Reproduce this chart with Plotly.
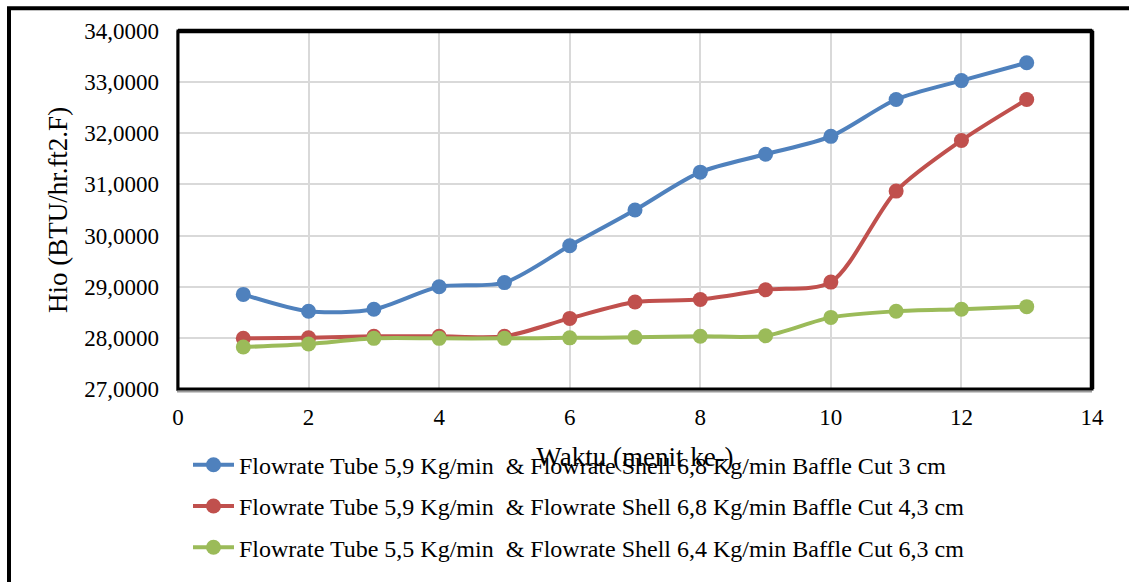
import plotly.graph_objects as go

# Waktu (menit ke-)
waktu = [1, 2, 3, 4, 5, 6, 7, 8, 9, 10, 11, 12, 13]

# Hio (BTU/hr.ft2.F) per series
hio_baffle_3 = [28.85, 28.52, 28.56, 29.00, 29.08, 29.80, 30.50, 31.24, 31.59, 31.94, 32.66, 33.03, 33.38]
hio_baffle_43 = [27.99, 28.00, 28.03, 28.03, 28.03, 28.38, 28.70, 28.75, 28.94, 29.09, 30.87, 31.86, 32.66]
hio_baffle_63 = [27.82, 27.88, 27.99, 27.99, 27.99, 28.00, 28.01, 28.03, 28.04, 28.40, 28.52, 28.56, 28.61]

series_names = [
    "Flowrate Tube 5,9 Kg/min  & Flowrate Shell 6,8 Kg/min Baffle Cut 3 cm",
    "Flowrate Tube 5,9 Kg/min  & Flowrate Shell 6,8 Kg/min Baffle Cut 4,3 cm",
    "Flowrate Tube 5,5 Kg/min  & Flowrate Shell 6,4 Kg/min Baffle Cut 6,3 cm",
]
series_colors = ["#4F81BD", "#C0504D", "#9BBB59"]
series_values = [hio_baffle_3, hio_baffle_43, hio_baffle_63]

FONT = "Liberation Serif"

W, H = 1129, 582
L, R, T, B = 178, 1092, 31, 391  # plot area in pixels
PW, PH = R - L, B - T


def px_x(p):
    return (p - L) / PW


def px_y(p):
    return (B - p) / PH


fig = go.Figure()
for i, (name, color, vals) in enumerate(zip(series_names, series_colors, series_values)):
    fig.add_trace(go.Scatter(
        x=waktu, y=vals, name=name, legendgroup=f"g{i}",
        mode="lines+markers",
        line=dict(color=color, width=4, shape="spline", smoothing=0.8),
        marker=dict(color=color, size=15),
    ))

shapes = [
    # outer frame of the figure
    dict(type="rect", xref="paper", yref="paper",
         x0=px_x(9), x1=px_x(1140), y0=px_y(600), y1=px_y(8),
         line=dict(color="black", width=4), layer="above"),
    # shadow on the left and bottom of the plot frame
    dict(type="line", xref="paper", yref="paper",
         x0=px_x(177), x1=px_x(177), y0=px_y(393), y1=1,
         line=dict(color="#9a9a9a", width=2), layer="above"),
    dict(type="line", xref="paper", yref="paper",
         x0=px_x(177), x1=1, y0=px_y(393.5), y1=px_y(393.5),
         line=dict(color="#9a9a9a", width=2), layer="above"),
    # plot frame
    dict(type="rect", xref="paper", yref="paper", x0=0, x1=1, y0=0, y1=1,
         line=dict(color="black", width=3), layer="above"),
    dict(type="line", xref="paper", yref="paper", x0=0, x1=1, y0=1, y1=1,
         line=dict(color="black", width=4.5), layer="above"),
    dict(type="line", xref="paper", yref="paper", x0=1, x1=1, y0=0, y1=1,
         line=dict(color="black", width=4.5), layer="above"),
]

fig.update_layout(
    width=W, height=H,
    margin=dict(l=L, r=W - R, t=T, b=H - B),
    paper_bgcolor="white", plot_bgcolor="white",
    separators=",.",
    font=dict(family=FONT, color="black", size=23),
    showlegend=True,
    legend=dict(
        x=px_x(188), xanchor="left", y=px_y(445), yanchor="top",
        font=dict(family=FONT, size=24, color="black"),
        itemwidth=41, tracegroupgap=7, traceorder="grouped",
        bgcolor="rgba(0,0,0,0)",
    ),
    shapes=shapes,
    xaxis=dict(
        range=[0, 14], dtick=2, tick0=0,
        showgrid=True, gridcolor="#d9d9d9", gridwidth=2,
        zeroline=False, showline=False, ticks="",
        ticklabelstandoff=12,
        tickfont=dict(family=FONT, size=23, color="black"),
        title=dict(text="Waktu (menit ke-)", font=dict(family=FONT, size=27, color="black"), standoff=18),
    ),
    yaxis=dict(
        range=[27, 34], dtick=1, tick0=27, tickformat=".4f",
        showgrid=True, gridcolor="#d9d9d9", gridwidth=2,
        zeroline=False, showline=False, ticks="",
        ticklabelstandoff=18,
        tickfont=dict(family=FONT, size=23, color="black"),
        title=dict(text="Hio (BTU/hr.ft2.F)", font=dict(family=FONT, size=27, color="black"), standoff=8),
    ),
)

fig.write_html("out.html")
